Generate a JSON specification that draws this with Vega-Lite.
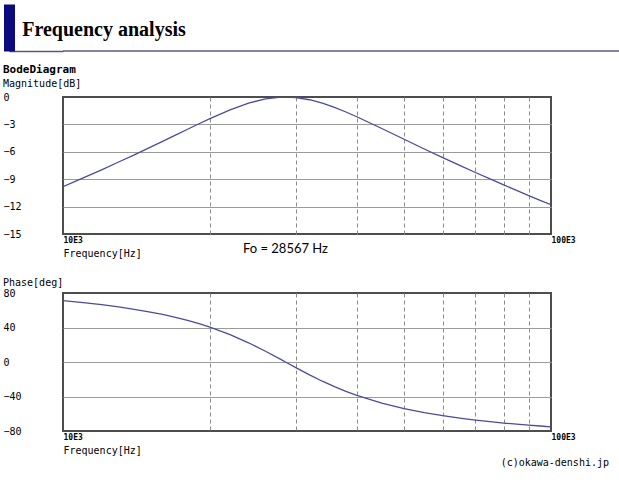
{
  "$schema": "https://vega.github.io/schema/vega-lite/v6.json",
  "padding": {"left": 2, "top": 4, "right": 0, "bottom": 0},
  "background": "white",
  "config": {
    "view": {"stroke": "#4d4d4d", "strokeWidth": 2},
    "font": "DejaVu Sans Mono"
  },
  "datasets": {
    "bode": [
      {"freq": 10000, "mag": -9.82, "phase": 71.17},
      {"freq": 11000, "mag": -8.86, "phase": 68.85},
      {"freq": 12000, "mag": -7.97, "phase": 66.46},
      {"freq": 13000, "mag": -7.12, "phase": 63.92},
      {"freq": 14000, "mag": -6.33, "phase": 61.13},
      {"freq": 15000, "mag": -5.57, "phase": 58.22},
      {"freq": 16000, "mag": -4.85, "phase": 55.10},
      {"freq": 17000, "mag": -4.17, "phase": 51.78},
      {"freq": 18000, "mag": -3.53, "phase": 48.22},
      {"freq": 19000, "mag": -2.93, "phase": 44.45},
      {"freq": 20000, "mag": -2.37, "phase": 40.43},
      {"freq": 22000, "mag": -1.41, "phase": 31.72},
      {"freq": 24000, "mag": -0.67, "phase": 22.28},
      {"freq": 26000, "mag": -0.21, "phase": 12.44},
      {"freq": 28000, "mag": -0.01, "phase": 2.69},
      {"freq": 28567, "mag": 0.0, "phase": 0.0},
      {"freq": 30000, "mag": -0.06, "phase": -6.54},
      {"freq": 32000, "mag": -0.30, "phase": -14.90},
      {"freq": 34000, "mag": -0.67, "phase": -22.27},
      {"freq": 36000, "mag": -1.13, "phase": -28.63},
      {"freq": 38000, "mag": -1.64, "phase": -34.09},
      {"freq": 40000, "mag": -2.16, "phase": -38.75},
      {"freq": 45000, "mag": -3.45, "phase": -47.74},
      {"freq": 50000, "mag": -4.63, "phase": -54.06},
      {"freq": 55000, "mag": -5.69, "phase": -58.70},
      {"freq": 60000, "mag": -6.64, "phase": -62.25},
      {"freq": 65000, "mag": -7.49, "phase": -65.02},
      {"freq": 70000, "mag": -8.27, "phase": -67.29},
      {"freq": 75000, "mag": -8.97, "phase": -69.15},
      {"freq": 80000, "mag": -9.62, "phase": -70.75},
      {"freq": 85000, "mag": -10.23, "phase": -72.06},
      {"freq": 90000, "mag": -10.79, "phase": -73.21},
      {"freq": 95000, "mag": -11.31, "phase": -74.18},
      {"freq": 100000, "mag": -11.80, "phase": -75.11}
    ]
  },
  "vconcat": [
    {
      "width": 557, "height": 47,
      "view": {"stroke": null},
      "title": {
        "text": "Frequency analysis",
        "orient": "bottom", "anchor": "start", "frame": "bounds",
        "font": "Liberation Serif", "fontSize": 20, "fontWeight": "bold",
        "color": "#000000", "baseline": "alphabetic", "offset": -16, "dx": 14
      },
      "data": {"values": [{"k": 0}]},
      "mark": {"type": "rule", "color": "#5a5a78", "strokeWidth": 1.5},
      "encoding": {
        "y": {
          "field": "k", "type": "quantitative",
          "scale": {"domain": [0, 1], "nice": false, "zero": false},
          "axis": {
            "orient": "left", "values": [0], "labelExpr": "''", "labels": false, "title": null, "grid": false,
            "domain": true, "domainColor": "#0b0b7e", "domainWidth": 11, "domainCap": "butt",
            "offset": 54,
            "ticks": true, "tickSize": -54, "tickColor": "#5a5a78", "tickWidth": 1.5
          }
        }
      }
    },
    {
      "vconcat": [
        {
          "width": 488, "height": 137,
          "title": {
            "text": "BodeDiagram", "subtitle": "Magnitude[dB]",
            "anchor": "start", "frame": "bounds",
            "font": "DejaVu Sans Mono", "fontSize": 11, "fontWeight": "bold", "color": "#000000",
            "subtitleFont": "DejaVu Sans Mono", "subtitleFontSize": 10, "subtitleColor": "#000000",
            "subtitlePadding": 4, "offset": 3
          },
          "layer": [
            {
              "data": {"name": "bode"},
              "mark": {"type": "line", "color": "#4b4b9b", "strokeWidth": 1.3, "clip": true},
              "encoding": {
                "x": {
                  "field": "freq", "type": "quantitative",
                  "scale": {"type": "log", "domain": [10000, 100000], "nice": false},
                  "axis": {
                    "values": [10000, 20000, 30000, 40000, 50000, 60000, 70000, 80000, 90000, 100000],
                    "labelExpr": "datum.value == 10000 ? '10E3' : datum.value == 100000 ? '100E3' : ''",
                    "labelAlign": "left", "labelFont": "DejaVu Sans Mono", "labelFontSize": 8, "labelFontWeight": "bold",
                    "labelColor": "#000000", "labelPadding": 2, "labelFlush": false, "labelOverlap": false, "labelBound": false,
                    "ticks": false, "tickSize": 0, "domain": false,
                    "grid": true, "gridColor": "#8a8a8a", "gridDash": [4, 3], "gridWidth": 1,
                    "gridOpacity": {"condition": {"test": "datum.value == 10000 || datum.value == 100000", "value": 0}, "value": 1},
                    "title": "Frequency[Hz]", "titleAnchor": "start", "titleAlign": "left",
                    "titleFont": "DejaVu Sans Mono", "titleFontSize": 10, "titleFontWeight": "normal", "titleColor": "#000000", "titlePadding": 4
                  }
                },
                "y": {
                  "field": "mag", "type": "quantitative",
                  "scale": {"domain": [-15, 0], "nice": false, "zero": false},
                  "axis": {
                    "values": [-15, -12, -9, -6, -3, 0],
                    "labelAlign": "left", "labelPadding": 60, "labelFont": "DejaVu Sans Mono", "labelFontSize": 10,
                    "labelColor": "#000000", "labelFlush": false, "labelOverlap": false, "labelBound": false,
                    "ticks": false, "tickSize": 0, "domain": false,
                    "grid": true, "gridColor": "#9a9a9a", "gridWidth": 1,
                    "gridOpacity": {"condition": {"test": "datum.value == -15 || datum.value == 0", "value": 0}, "value": 1},
                    "title": null
                  }
                }
              }
            },
            {
              "data": {"values": [{"f0": 28567, "label": "Fo = 28567 Hz"}]},
              "mark": {"type": "text", "font": "Lato", "fontSize": 13, "baseline": "top", "align": "center", "dy": 9, "color": "#000000"},
              "encoding": {
                "x": {"field": "f0", "type": "quantitative"},
                "y": {"value": "height"},
                "text": {"field": "label"}
              }
            }
          ]
        },
        {
          "width": 488, "height": 138,
          "title": {
            "text": "Phase[deg]",
            "anchor": "start", "frame": "bounds",
            "font": "DejaVu Sans Mono", "fontSize": 10, "fontWeight": "normal", "color": "#000000",
            "offset": 0
          },
          "layer": [
            {
              "data": {"name": "bode"},
              "mark": {"type": "line", "color": "#4b4b9b", "strokeWidth": 1.3, "clip": true},
              "encoding": {
                "x": {
                  "field": "freq", "type": "quantitative",
                  "scale": {"type": "log", "domain": [10000, 100000], "nice": false},
                  "axis": {
                    "values": [10000, 20000, 30000, 40000, 50000, 60000, 70000, 80000, 90000, 100000],
                    "labelExpr": "datum.value == 10000 ? '10E3' : datum.value == 100000 ? '100E3' : ''",
                    "labelAlign": "left", "labelFont": "DejaVu Sans Mono", "labelFontSize": 8, "labelFontWeight": "bold",
                    "labelColor": "#000000", "labelPadding": 2, "labelFlush": false, "labelOverlap": false, "labelBound": false,
                    "ticks": false, "tickSize": 0, "domain": false,
                    "grid": true, "gridColor": "#8a8a8a", "gridDash": [4, 3], "gridWidth": 1,
                    "gridOpacity": {"condition": {"test": "datum.value == 10000 || datum.value == 100000", "value": 0}, "value": 1},
                    "title": "Frequency[Hz]", "titleAnchor": "start", "titleAlign": "left",
                    "titleFont": "DejaVu Sans Mono", "titleFontSize": 10, "titleFontWeight": "normal", "titleColor": "#000000", "titlePadding": 4
                  }
                },
                "y": {
                  "field": "phase", "type": "quantitative",
                  "scale": {"domain": [-80, 80], "nice": false, "zero": false},
                  "axis": {
                    "values": [-80, -40, 0, 40, 80],
                    "labelAlign": "left", "labelPadding": 60, "labelFont": "DejaVu Sans Mono", "labelFontSize": 10,
                    "labelColor": "#000000", "labelFlush": false, "labelOverlap": false, "labelBound": false,
                    "ticks": false, "tickSize": 0, "domain": false,
                    "grid": true, "gridColor": "#9a9a9a", "gridWidth": 1,
                    "gridOpacity": {"condition": {"test": "datum.value == -80 || datum.value == 80", "value": 0}, "value": 1},
                    "title": null
                  }
                }
              }
            },
            {
              "data": {"values": [{"note": "(c)okawa-denshi.jp"}]},
              "mark": {"type": "text", "font": "DejaVu Sans Mono", "fontSize": 10, "baseline": "middle", "align": "right", "dx": 58, "dy": 32, "color": "#000000"},
              "encoding": {
                "x": {"value": "width"},
                "y": {"value": "height"},
                "text": {"field": "note"}
              }
            }
          ]
        }
      ],
      "spacing": 18
    }
  ],
  "spacing": 11
}
